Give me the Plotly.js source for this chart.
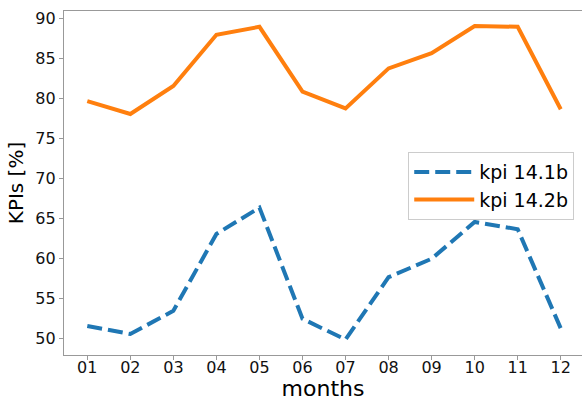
<!DOCTYPE html>
<html>
<head>
<meta charset="utf-8">
<script src="https://cdn.plot.ly/plotly-3.0.1.min.js"></script>
<style>html,body{margin:0;padding:0;background:#fff;overflow:hidden}</style>
</head>
<body>
<div id="chart" style="width:582px;height:401px"></div>
<script>
const months = ["01","02","03","04","05","06","07","08","09","10","11","12"];
const kpi141b = [51.5, 50.5, 53.4, 63.0, 66.3, 52.4, 49.8, 57.6, 59.9, 64.5, 63.6, 51.2];
const kpi142b = [79.6, 78.0, 81.5, 87.9, 88.9, 80.8, 78.7, 83.7, 85.6, 89.0, 88.9, 78.6];
const seriesNames = ["kpi 14.1b", "kpi 14.2b"];

const idx = months.map((m, i) => i);
const traces = [
  {x: idx, y: kpi141b, name: seriesNames[0], mode: "lines",
   line: {color: "#1f77b4", width: 4, dash: "15px,6px"}},
  {x: idx, y: kpi142b, name: seriesNames[1], mode: "lines",
   line: {color: "#ff7f0e", width: 4}}
];
const font = "DejaVu Sans, sans-serif";
const layout = {
  width: 582, height: 401,
  margin: {l: 64, r: 0, t: 11, b: 46},
  paper_bgcolor: "#fff", plot_bgcolor: "#fff",
  showlegend: true,
  font: {family: font, color: "#000"},
  xaxis: {
    range: [-0.541, 11.494], tickvals: idx, ticktext: months,
    showgrid: false, zeroline: false, showline: true, mirror: true,
    linecolor: "#999", linewidth: 1.2,
    ticks: "outside", ticklen: 4, tickcolor: "#999",
    ticklabelstandoff: -6,
    tickfont: {size: 16, family: font, color: "#111"},
    title: {text: "months", font: {size: 22, family: font}, standoff: 4}
  },
  yaxis: {
    range: [47.875, 90.875], tickvals: [50,55,60,65,70,75,80,85,90],
    showgrid: false, zeroline: false, showline: true,
    linecolor: "#999", linewidth: 1.2,
    ticks: "outside", ticklen: 4, tickcolor: "#999",
    tickfont: {size: 16, family: font, color: "#111"},
    title: {text: "KPIs [%]", font: {size: 20, family: font}, standoff: 6}
  },
  legend: {
    x: 0.985, y: 0.59, xanchor: "right", yanchor: "top",
    bgcolor: "#fff", bordercolor: "#ccc", borderwidth: 1,
    font: {size: 19, family: font},
    itemwidth: 60
  }
};
Plotly.newPlot("chart", traces, layout, {displayModeBar: false, staticPlot: true});
</script>
</body>
</html>
